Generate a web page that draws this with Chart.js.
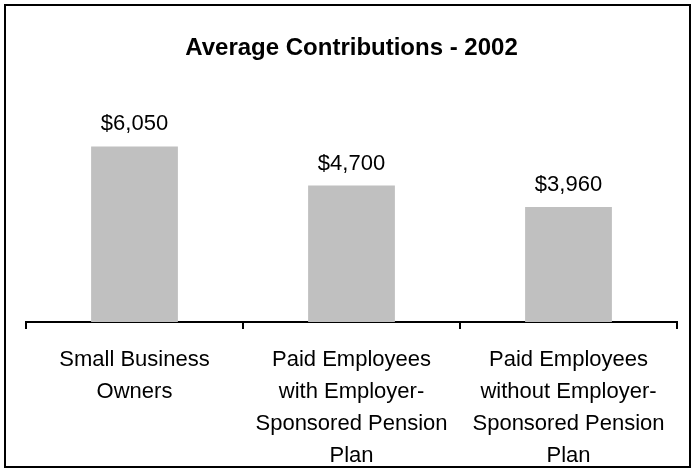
<!DOCTYPE html>
<html>
<head>
<meta charset="utf-8">
<script src="https://cdn.jsdelivr.net/npm/chart.js@4"></script>
<style>
    body { margin: 0; background: #fff; }
    #wrap { position: relative; width: 692px; height: 470px; }
    #frame {
        position: absolute; left: 4px; top: 4px; width: 687px; height: 464px;
        border: 2px solid #000; box-sizing: border-box;
    }
    #chart { position: absolute; left: 0; top: 0; }
</style>
</head>
<body>
<div id="wrap">
    <div id="frame"></div>
    <canvas id="chart" width="692" height="470"></canvas>
</div>
<script>
const groups = [
    ['Small Business', 'Owners'],
    ['Paid Employees', 'with Employer-', 'Sponsored Pension', 'Plan'],
    ['Paid Employees', 'without Employer-', 'Sponsored Pension', 'Plan']
];
const contributions = [6050, 4700, 3960];
const chartTitle = 'Average Contributions - 2002';

const money = v => '$' + v.toLocaleString('en-US');

// value labels sitting above each bar
const barLabels = {
    id: 'barLabels',
    afterDatasetsDraw(chart) {
        const ctx = chart.ctx;
        const meta = chart.getDatasetMeta(0);
        ctx.save();
        ctx.font = '22px "Liberation Sans", Arial, sans-serif';
        ctx.fillStyle = '#000';
        ctx.textAlign = 'center';
        ctx.textBaseline = 'middle';
        meta.data.forEach((bar, i) => {
            ctx.fillText(money(contributions[i]), bar.x, bar.y - 22);
        });
        ctx.restore();
    }
};

new Chart(document.getElementById('chart'), {
    type: 'bar',
    data: {
        labels: groups,
        datasets: [{
            data: contributions,
            backgroundColor: '#c0c0c0',
            borderWidth: 0,
            barPercentage: 0.4,
            categoryPercentage: 1
        }]
    },
    options: {
        responsive: false,
        animation: false,
        layout: { padding: { left: 26, right: 15, top: 0, bottom: 0 } },
        plugins: {
            legend: { display: false },
            tooltip: { enabled: false },
            title: {
                display: true,
                text: chartTitle,
                color: '#000',
                font: { family: '"Liberation Sans", Arial, sans-serif', size: 24, weight: 'bold', lineHeight: 1.2 },
                padding: { top: 34, bottom: 27 }
            }
        },
        scales: {
            x: {
                afterFit: scale => { scale.height = 148; },
                border: { display: true, color: '#000', width: 2 },
                grid: {
                    offset: true,
                    drawOnChartArea: false,
                    drawTicks: true,
                    tickLength: 7,
                    color: '#000',
                    lineWidth: 2
                },
                ticks: {
                    color: '#000',
                    padding: 15,
                    maxRotation: 0,
                    autoSkip: false,
                    font: { family: '"Liberation Sans", Arial, sans-serif', size: 22, lineHeight: 1.45 }
                }
            },
            y: {
                display: false,
                min: 0,
                max: 8000
            }
        }
    },
    plugins: [barLabels]
});
</script>
</body>
</html>
